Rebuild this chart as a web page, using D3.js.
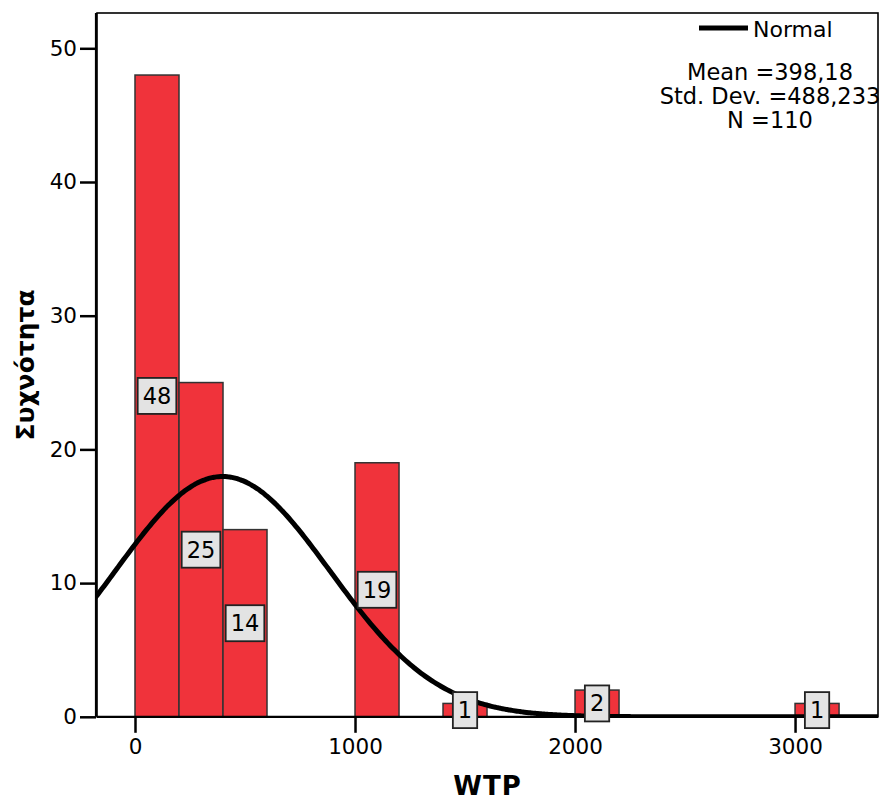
<!DOCTYPE html>
<html><head><meta charset="utf-8">
<script src="https://cdn.jsdelivr.net/npm/d3@7"></script>
<style>
html,body{margin:0;padding:0;background:#fff;}
svg{display:block;font-family:"DejaVu Sans",Verdana,sans-serif;}
</style></head>
<body>
<svg id="chart" width="882" height="801"></svg>
<script>
// ---- data ----
const binStarts = [0, 200, 400, 1000, 1400, 2000, 3000];
const binWidth = 200;
const counts = [48, 25, 14, 19, 1, 2, 1];
const yTicks = [0, 10, 20, 30, 40, 50];
const xTicks = [0, 1000, 2000, 3000];
const meanVal = 398.18;
const sdVal = 488.233;
const nVal = 110;
const statLines = ["Mean =398,18", "Std. Dev. =488,233", "N =110"];
const legendLabel = "Normal";
const xTitle = "WTP";
const yTitle = "Συχνότητα";

// ---- layout ----
const svg = d3.select("#chart");
const L = 97, R = 878, T = 13, B = 716.8;
const x = d3.scaleLinear().domain([-172.7, 3377]).range([L, R]);
const y = d3.scaleLinear().domain([0, 52.64]).range([B, T]);

// plot frame
svg.append("rect").attr("x", L).attr("y", T).attr("width", R - L).attr("height", B - T)
  .attr("fill", "none").attr("stroke", "#000").attr("stroke-width", 1.6);

const clip = svg.append("clipPath").attr("id", "clip");
clip.append("rect").attr("x", L).attr("y", T).attr("width", R - L).attr("height", B - T);

// bars
const bars = binStarts.map((s, i) => ({ s, c: counts[i] }));
svg.append("g").selectAll("rect").data(bars).join("rect")
  .attr("x", d => x(d.s))
  .attr("y", d => y(d.c))
  .attr("width", d => x(d.s + binWidth) - x(d.s))
  .attr("height", d => y(0) - y(d.c))
  .attr("fill", "#f0333b")
  .attr("stroke", "#333")
  .attr("stroke-width", 1.5);

// normal curve (fitted from the stated mean, sd and N)
const gauss = v => nVal * binWidth / (sdVal * Math.sqrt(2 * Math.PI)) * Math.exp(-0.5 * ((v - meanVal) / sdVal) ** 2);
const xs = d3.range(-180, 3400, 10);
svg.append("path").attr("clip-path", "url(#clip)")
  .datum(xs)
  .attr("d", d3.line().x(v => x(v)).y(v => y(gauss(v))).curve(d3.curveBasis))
  .attr("fill", "none").attr("stroke", "#000").attr("stroke-width", 5);

// y axis
const yAxis = svg.append("g").attr("transform", `translate(${L - 1},0)`)
  .call(d3.axisLeft(y).tickValues(yTicks).tickFormat(d3.format("d")).tickSize(16).tickPadding(3).tickSizeOuter(0));
yAxis.select(".domain").attr("d", `M0,${T}V${B}`).attr("stroke", "#000").attr("stroke-width", 2.2);
yAxis.selectAll(".tick line").attr("stroke", "#000").attr("stroke-width", 2.5);
yAxis.selectAll(".tick text").attr("font-size", 21.5).attr("fill", "#000")
  .attr("font-family", "DejaVu Sans, Verdana, sans-serif");

// x axis
const xAxis = svg.append("g").attr("transform", `translate(0,${B})`)
  .call(d3.axisBottom(x).tickValues(xTicks).tickFormat(d3.format("d")).tickSize(16).tickPadding(6).tickSizeOuter(0));
xAxis.select(".domain").attr("d", `M${L},0H${R}`).attr("stroke", "#000").attr("stroke-width", 2.2);
xAxis.selectAll(".tick line").attr("stroke", "#000").attr("stroke-width", 2.5);
xAxis.selectAll(".tick text").attr("font-size", 21.5).attr("fill", "#000")
  .attr("font-family", "DejaVu Sans, Verdana, sans-serif");

// value labels
const lab = svg.append("g").selectAll("g").data(bars).join("g")
  .attr("transform", d => `translate(${x(d.s + binWidth / 2)},${y(d.c / 2)})`);
lab.each(function(d) {
  const g = d3.select(this);
  const t = g.append("text").text(d.c).attr("font-size", 22.5).attr("text-anchor", "middle")
    .attr("y", 8).attr("fill", "#000");
  const w = t.node().getComputedTextLength() + 10;
  g.insert("rect", "text").attr("x", -w / 2).attr("y", -18).attr("width", w).attr("height", 36)
    .attr("fill", "#e3e3e3").attr("stroke", "#222").attr("stroke-width", 1.8);
});

// legend
svg.append("line").attr("x1", 699).attr("x2", 748).attr("y1", 28).attr("y2", 28)
  .attr("stroke", "#000").attr("stroke-width", 5);
svg.append("text").attr("x", 753).attr("y", 37).attr("font-size", 22).text(legendLabel);
svg.append("g").selectAll("text").data(statLines).join("text")
  .attr("x", 770).attr("y", (d, i) => 80 + i * 24).attr("text-anchor", "middle")
  .attr("font-size", 22.5).text(d => d);

// axis titles
svg.append("text").attr("x", L + (R - L) / 2).attr("y", 795).attr("text-anchor", "middle")
  .attr("font-size", 26).attr("font-weight", "bold").attr("letter-spacing", 1).text(xTitle);
svg.append("text").attr("transform", `translate(34,${(T + B) / 2}) rotate(-90)`)
  .attr("text-anchor", "middle").attr("font-size", 25).attr("font-weight", "bold").text(yTitle);
</script>
</body></html>
